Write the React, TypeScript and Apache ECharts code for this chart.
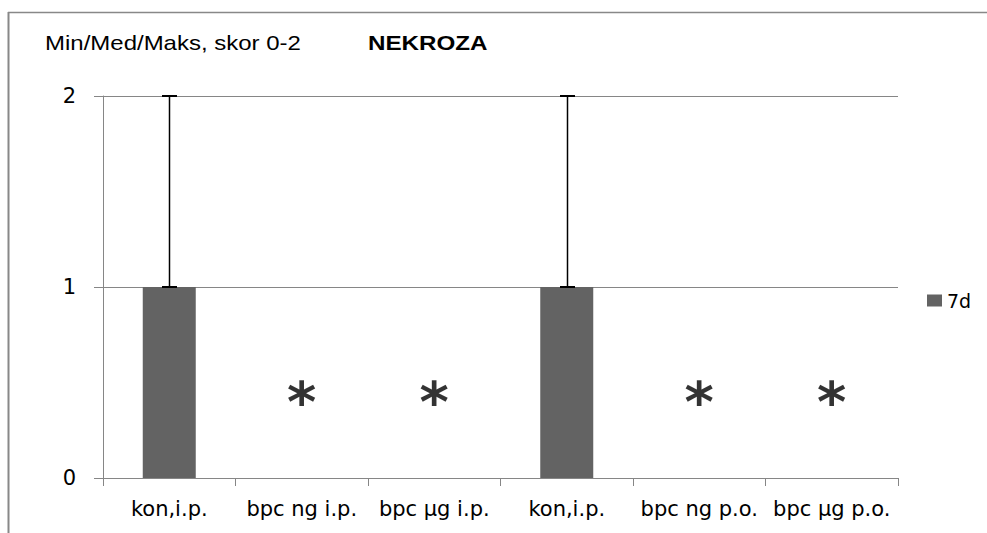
import React, { useEffect, useRef } from 'react';
import * as echarts from 'echarts';

const categories = ['kon,i.p.', 'bpc ng i.p.', 'bpc µg i.p.', 'kon,i.p.', 'bpc ng p.o.', 'bpc µg p.o.'];
const medians = [1, 0, 0, 1, 0, 0];
const mins = [1, 0, 0, 1, 0, 0];
const maxs = [2, 0, 0, 2, 0, 0];
const significant = [false, true, true, false, true, true];
const yTicks = [0, 1, 2];
const seriesName = '7d';
const titleText = 'Min/Med/Maks, skor 0-2';
const titleBold = 'NEKROZA';

const ASTERISK_LEVEL = 0.43;
const GRID = '#868686';

export default function App() {
  const ref = useRef<HTMLDivElement>(null);
  useEffect(() => {
    const chart = echarts.init(ref.current!, null, { renderer: 'svg' });
    chart.setOption({
      animation: false,
      backgroundColor: '#ffffff',
      grid: { left: 103, right: 89, top: 96, bottom: 55, containLabel: false },
      legend: {
        data: [seriesName],
        left: 927,
        top: 291,
        padding: 0,
        icon: 'rect',
        itemWidth: 15,
        itemHeight: 12,
        textStyle: { fontFamily: 'DejaVu Sans', fontSize: 19, color: '#000' },
      },
      xAxis: {
        type: 'category',
        data: categories,
        axisLine: { lineStyle: { color: GRID, width: 1 } },
        axisTick: { show: true, length: 8, lineStyle: { color: GRID } },
        axisLabel: { color: '#000', fontFamily: 'DejaVu Sans', fontSize: 21, margin: 20, interval: 0 },
      },
      yAxis: {
        type: 'value',
        min: yTicks[0],
        max: yTicks[yTicks.length - 1],
        interval: 1,
        axisLine: { show: true, lineStyle: { color: GRID, width: 1 } },
        axisTick: { show: true, length: 9, lineStyle: { color: GRID } },
        splitLine: { show: true, lineStyle: { color: GRID, width: 1 } },
        axisLabel: { color: '#000', fontFamily: 'DejaVu Sans', fontSize: 21, margin: 27 },
      },
      graphic: [
        { type: 'line', shape: { x1: 8.5, y1: 12, x2: 8.5, y2: 533 }, style: { stroke: '#888', lineWidth: 2 } },
        { type: 'line', shape: { x1: 8, y1: 12.5, x2: 987, y2: 12.5 }, style: { stroke: '#888', lineWidth: 1.5 } },
        {
          type: 'text', x: 45, y: 43, scaleX: 1.2,
          style: { text: titleText, fontFamily: 'Liberation Sans', fontSize: 20, fill: '#000', align: 'left', verticalAlign: 'middle' },
        },
        {
          type: 'text', x: 368, y: 43, scaleX: 1.21,
          style: { text: titleBold, fontFamily: 'Liberation Sans', fontWeight: 'bold', fontSize: 20, fill: '#000', align: 'left', verticalAlign: 'middle' },
        },
      ],
      series: [
        {
          name: seriesName,
          type: 'bar',
          data: medians,
          barWidth: '40%',
          itemStyle: { color: '#636363' },
          z: 2,
        },
        {
          type: 'custom',
          data: categories.map((_, i) => [i, mins[i], maxs[i]]),
          encode: { x: 0, y: [1, 2] },
          z: 5,
          renderItem: (params: any, api: any) => {
            const i = api.value(0);
            const lo = api.value(1);
            const hi = api.value(2);
            if (lo === hi) return { type: 'group', children: [] };
            const p1 = api.coord([i, lo]);
            const p2 = api.coord([i, hi]);
            const x = Math.round(p1[0]) + 0.5;
            const cap = 7.5;
            return {
              type: 'group',
              children: [
                { type: 'line', shape: { x1: x, y1: p1[1], x2: x, y2: p2[1] }, style: { stroke: '#000', lineWidth: 1.5 } },
                { type: 'line', shape: { x1: x - cap, y1: p1[1], x2: x + cap, y2: p1[1] }, style: { stroke: '#000', lineWidth: 2 } },
                { type: 'line', shape: { x1: x - cap, y1: p2[1], x2: x + cap, y2: p2[1] }, style: { stroke: '#000', lineWidth: 2 } },
              ],
            };
          },
        },
        {
          type: 'scatter',
          data: significant.map((s) => (s ? ASTERISK_LEVEL : '-')),
          symbolSize: 1,
          itemStyle: { color: 'rgba(0,0,0,0)' },
          z: 6,
          label: {
            show: true,
            position: 'inside',
            formatter: '*',
            fontFamily: 'DejaVu Sans',
            fontWeight: 'bold',
            fontSize: 56,
            color: '#000',
            offset: [0, 6],
          },
        },
      ],
    });
    return () => chart.dispose();
  }, []);
  return (
    <div
      ref={ref}
      style={{ position: 'fixed', left: 0, top: 0, width: 987, height: 533, background: '#fff' }}
    />
  );
}
